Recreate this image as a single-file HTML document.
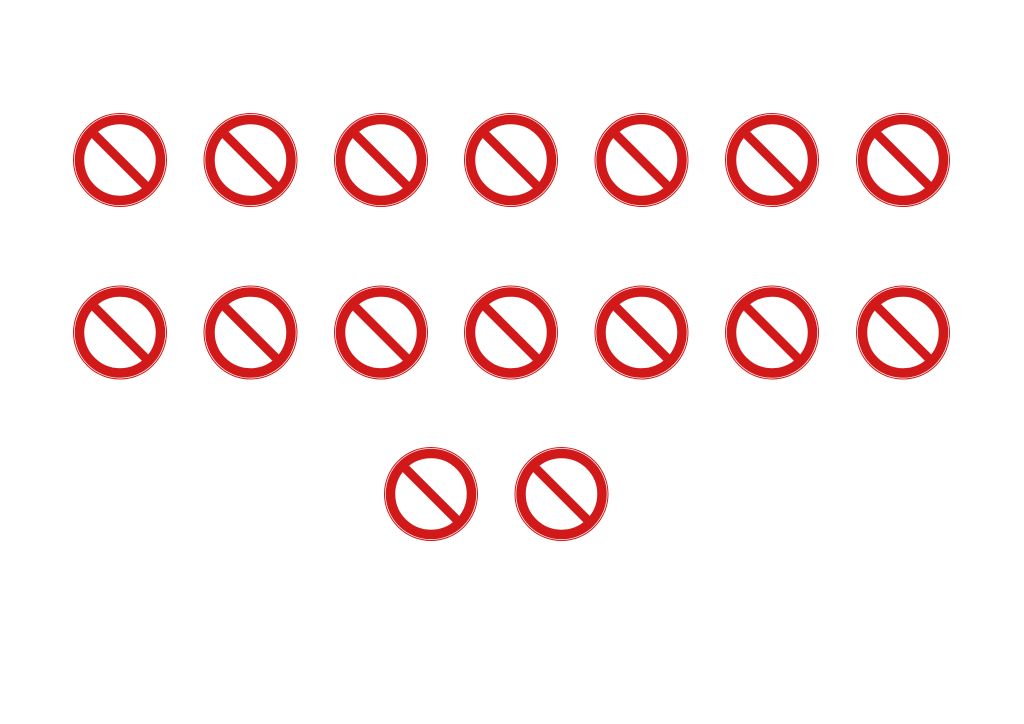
<!DOCTYPE html>
<html><head><style>html,body{margin:0;padding:0;background:#fff}svg{display:block}</style></head>
<body>
<svg width="1024" height="724" viewBox="0 0 1024 724" xmlns="http://www.w3.org/2000/svg">
<defs>
<clipPath id="c"><circle cx="0" cy="0" r="36"/></clipPath>
<g id="s">
<circle cx="0" cy="0" r="46.5" fill="#fff" stroke="#d2191a" stroke-width="1"/>
<circle cx="0" cy="0" r="40.5" fill="#fff" stroke="#d2191a" stroke-width="9.5"/>
<line x1="-40" y1="-40" x2="40" y2="40" stroke="#d2191a" stroke-width="9" clip-path="url(#c)"/>
</g>
</defs>
<use href="#s" x="120" y="160"/><use href="#s" x="250.5" y="160"/><use href="#s" x="381" y="160"/><use href="#s" x="511" y="160"/><use href="#s" x="641.5" y="160"/><use href="#s" x="772" y="160"/><use href="#s" x="903" y="160"/>
<use href="#s" x="120" y="332.5"/><use href="#s" x="250.5" y="332.5"/><use href="#s" x="381" y="332.5"/><use href="#s" x="511" y="332.5"/><use href="#s" x="641.5" y="332.5"/><use href="#s" x="772" y="332.5"/><use href="#s" x="903" y="332.5"/>
<use href="#s" x="431" y="494"/><use href="#s" x="561.5" y="494"/>
</svg>
</body></html>
